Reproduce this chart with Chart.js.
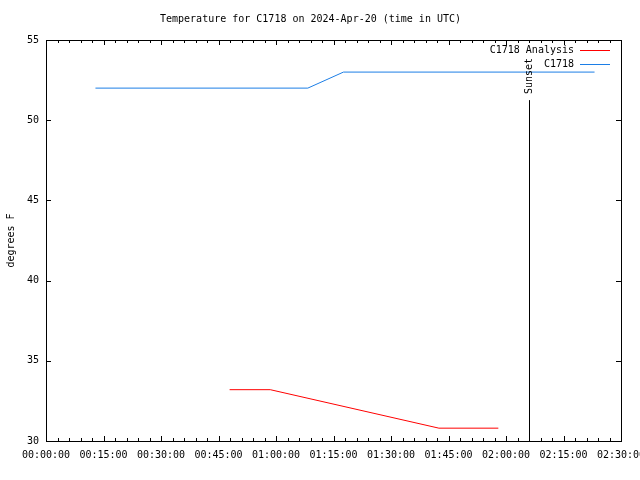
<!DOCTYPE html>
<html>
<head>
<meta charset="utf-8">
<script src="https://cdn.jsdelivr.net/npm/chart.js@4.4.1/dist/chart.umd.min.js"></script>
<style>
html,body{margin:0;padding:0;background:#fff;}
#wrap{width:640px;height:480px;position:relative;}
</style>
</head>
<body>
<div id="wrap"><canvas id="c" width="640" height="480"></canvas></div>
<script>
// ---- data (x in minutes after 00:00 UTC, y in degrees F) ----
const analysisTimes = [47.9, 58.5, 102.5, 118.0];
const analysisTemps = [33.2, 33.2, 30.8, 30.8];
const obsTimes = [12.9, 68.3, 77.6, 143.1];
const obsTemps = [52, 52, 53, 53];
const seriesNames = ["C1718 Analysis", "C1718"];
const sunsetTime = 126.0;
const sunsetLabel = "Sunset";
const xTickMinutes = [0, 15, 30, 45, 60, 75, 90, 105, 120, 135, 150];
const yTickValues = [30, 35, 40, 45, 50, 55];
const titleText = "Temperature for C1718 on 2024-Apr-20 (time in UTC)";
const yTitle = "degrees F";

const FONT = "DejaVu Sans Mono";
function fmt(m){
  const h = Math.floor(m/60), mm = Math.round(m%60);
  return String(h).padStart(2,"0")+":"+String(mm).padStart(2,"0")+":00";
}
function pts(xs, ys){ return xs.map((x,i)=>({x:x, y:ys[i]})); }

const decor = {
  id: 'decor',
  afterDraw(chart){
    const ctx = chart.ctx, a = chart.chartArea;
    const xs = chart.scales.x, ys = chart.scales.y;
    ctx.save();
    ctx.strokeStyle = '#000';
    ctx.lineWidth = 1;
    // frame
    ctx.strokeRect(Math.round(a.left)+0.5, Math.round(a.top)+0.5, Math.round(a.right-a.left), Math.round(a.bottom-a.top));
    // x ticks (major 15 min, minor 3 min), inward top and bottom
    ctx.beginPath();
    for (let m = 0; m <= 150; m += 3){
      const px = Math.round(xs.getPixelForValue(m))+0.5;
      const len = (m % 15 === 0) ? 5 : 3;
      ctx.moveTo(px, a.bottom); ctx.lineTo(px, a.bottom - len);
      ctx.moveTo(px, a.top); ctx.lineTo(px, a.top + len);
    }
    // y ticks inward left and right
    yTickValues.forEach(v=>{
      const py = Math.round(ys.getPixelForValue(v))+0.5;
      ctx.moveTo(a.left, py); ctx.lineTo(a.left + 5, py);
      ctx.moveTo(a.right, py); ctx.lineTo(a.right - 5, py);
    });
    ctx.stroke();

    // sunset line + label
    const sx = Math.round(xs.getPixelForValue(sunsetTime))+0.5;
    ctx.font = "10px '"+FONT+"'";
    const tw = ctx.measureText(sunsetLabel).width;
    const textTop = a.top + 18;
    ctx.beginPath();
    ctx.moveTo(sx, a.bottom);
    ctx.lineTo(sx, textTop + tw + 6);
    ctx.stroke();
    ctx.save();
    ctx.translate(sx, textTop + tw);
    ctx.rotate(-Math.PI/2);
    ctx.fillStyle = '#000';
    ctx.textAlign = 'left';
    ctx.textBaseline = 'middle';
    ctx.fillText(sunsetLabel, 0, 0);
    ctx.restore();

    // legend
    ctx.textAlign = 'right';
    ctx.textBaseline = 'middle';
    chart.data.datasets.forEach((ds, i)=>{
      const y = a.top + 9.5 + i*14;
      ctx.fillStyle = '#000';
      ctx.fillText(ds.label, a.right - 47, y+0.5);
      ctx.strokeStyle = ds.borderColor;
      ctx.beginPath();
      ctx.moveTo(a.right - 41, Math.round(y)+0.5);
      ctx.lineTo(a.right - 11, Math.round(y)+0.5);
      ctx.stroke();
    });
    ctx.restore();
  }
};

new Chart(document.getElementById('c'), {
  type: 'line',
  data: {
    datasets: [
      { label: seriesNames[0], data: pts(analysisTimes, analysisTemps), borderColor: '#ff0000', borderWidth: 1, pointRadius: 0, tension: 0, fill: false },
      { label: seriesNames[1], data: pts(obsTimes, obsTemps), borderColor: '#1c7ee6', borderWidth: 1, pointRadius: 0, tension: 0, fill: false }
    ]
  },
  options: {
    responsive: false,
    animation: false,
    devicePixelRatio: 1,
    layout: { padding: { left: 0, right: 19, top: 0, bottom: 0 } },
    plugins: {
      legend: { display: false },
      tooltip: { enabled: false },
      title: {
        display: true, text: titleText, color: '#000',
        font: { family: FONT, size: 10, weight: 'normal' },
        padding: { top: 13, bottom: 15 }
      }
    },
    scales: {
      x: {
        type: 'linear', min: 0, max: 150,
        grid: { display: false, drawTicks: false },
        border: { display: false },
        afterBuildTicks(s){ s.ticks = xTickMinutes.map(v=>({value:v})); },
        afterFit(s){ s.height = 39; s.paddingLeft = 0; s.paddingRight = 0; },
        ticks: { callback: v => fmt(v), color: '#000', maxRotation: 0, autoSkip: false, padding: 8,
                 font: { family: FONT, size: 10 } }
      },
      y: {
        type: 'linear', min: 30, max: 55,
        grid: { display: false, drawTicks: false },
        border: { display: false },
        afterBuildTicks(s){ s.ticks = yTickValues.map(v=>({value:v})); },
        afterFit(s){ s.width = 46; s.paddingTop = 0; s.paddingBottom = 0; },
        title: { display: true, text: yTitle, color: '#000', font: { family: FONT, size: 10 }, padding: { top: 5, bottom: 0 } },
        ticks: { color: '#000', padding: 7, font: { family: FONT, size: 10 } }
      }
    }
  },
  plugins: [decor]
});
</script>
</body>
</html>
